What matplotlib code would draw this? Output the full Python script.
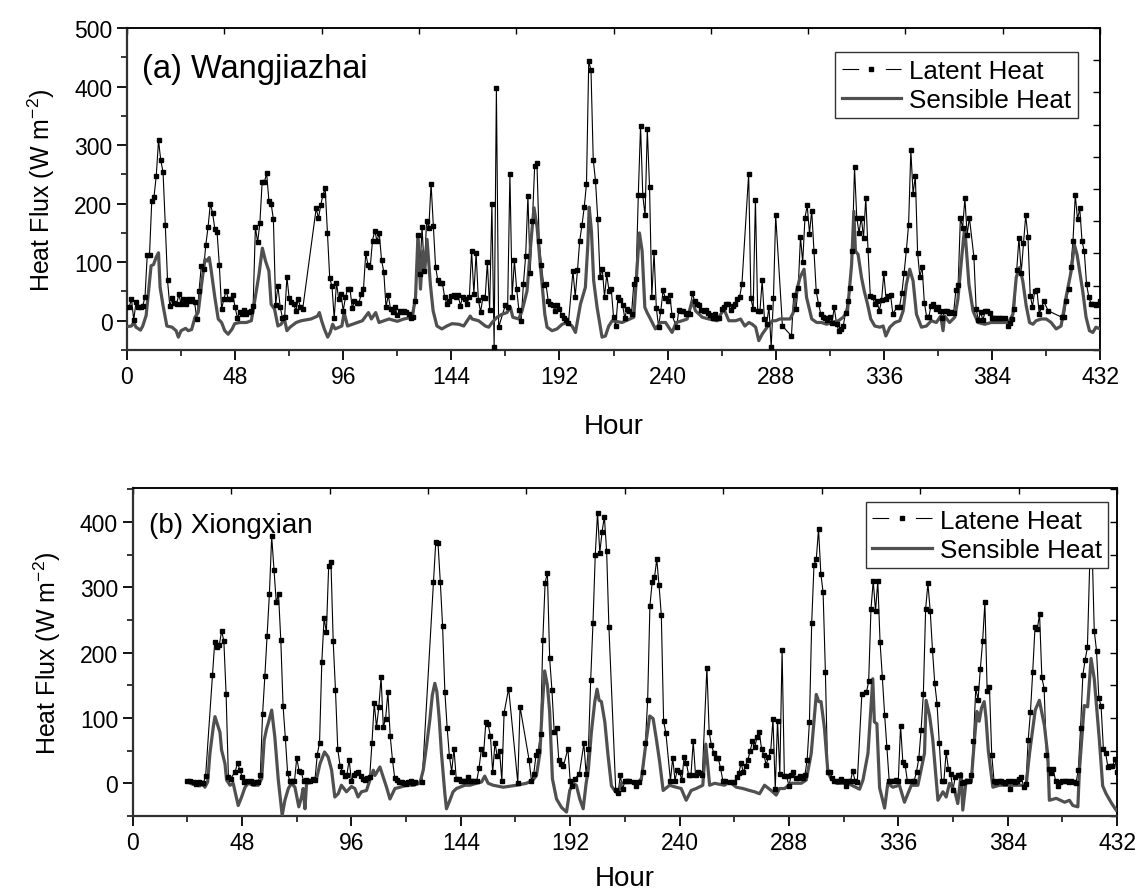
import numpy as np
import matplotlib
matplotlib.use("Agg")
import matplotlib.pyplot as plt
from matplotlib.lines import Line2D
from matplotlib.ticker import MultipleLocator, NullFormatter

nan = np.nan

plt.rcParams['font.family'] = ['Liberation Sans', 'DejaVu Sans']
plt.rcParams['mathtext.fontset'] = 'custom'
plt.rcParams['mathtext.rm'] = 'Liberation Sans'
plt.rcParams['mathtext.it'] = 'Liberation Sans:italic'

# hourly latent heat (W m-2), hour 0..432, nan = no record
latent_a = [
    nan, 24, 37, 1, 32, 24, 24, 25, 41, 113, 113, 205,
    212, 248, 308, 274, 254, 164, 69, 25, 38, 31, 28, 45,
    29, 37, 29, 37, 34, 37, 32, 3, 51, 94, 88, 130,
    160, 200, 184, 157, 151, 95, 20, 37, 51, 37, 37, 44,
    23, 5, 15, 12, 18, 11, 15, 17, 25, 160, 134, 167,
    237, 237, 252, 205, 200, 173, 27, 60, 24, 5, 7, 75,
    38, 32, 28, 17, 37, 23, 20, nan, nan, nan, nan, nan,
    192, 175, 197, 215, 226, 150, 73, 59, 4, 65, 37, 46,
    17, 40, 55, 55, 21, 34, 31, 31, 46, 55, 115, 95,
    92, 137, 154, 136, 150, 104, 84, 23, 44, 20, 15, 24,
    9, 17, 15, 17, 15, 11, 4, 6, 34, 146, 80, 160,
    85, 170, 159, 234, 162, 92, 69, 65, 65, 41, 29, 34,
    43, 44, 41, 44, 26, 40, 37, 29, 41, 119, 46, 116,
    35, 15, 40, 38, 100, 19, 200, -45, 398, -11, nan, nan,
    27, 24, 251, 41, 103, 54, 18, 0, 63, 111, 213, 82,
    171, 265, 269, 137, 95, 61, 63, 34, 29, 27, 17, 27,
    20, 10, 5, 1, -3, nan, 85, 41, 86, 137, 163, 194,
    234, 443, 428, 275, 239, 174, 75, 89, 41, 79, 51, 54,
    7, -9, 41, 35, 27, 5, 20, 16, 12, 63, 71, 215,
    333, 214, 180, 327, 228, 41, 117, 22, -10, 17, 52, 38,
    33, 44, 9, nan, -11, 18, 17, 16, 11, 14, 12, 48,
    33, 29, 27, 18, 17, 18, 14, 9, 5, 12, 5, 5,
    20, 24, 29, 28, 18, 26, 29, 37, 41, 62, nan, nan,
    251, 38, 20, 207, 16, 16, 69, 3, -6, 24, -45, 38,
    180, nan, nan, -9, nan, nan, nan, -26, 44, 20, 56, 143,
    100, 176, 197, 149, 188, 119, 50, 29, 12, 6, 5, 1,
    6, -3, 23, -5, -17, -14, -9, 14, 34, 56, 119, 262,
    176, 150, 176, 142, 210, 120, 43, 40, 29, 33, 17, 35,
    81, 37, 43, 44, 12, nan, 24, 24, 47, 81, 120, 164,
    291, 217, 247, 116, 75, 92, 31, 7, 7, 26, 29, 20,
    23, 17, 5, 17, 16, 14, 15, 14, 52, 61, 176, 159,
    209, 147, 176, nan, 109, 20, 1, 15, 1, 16, 16, 14,
    5, 5, 5, 5, 4, nan, 5, -9, -3, 3, 20, 86,
    142, 82, 132, 180, 143, 43, 24, 51, 52, 12, 23, 33,
    nan, 17, nan, nan, nan, nan, nan, 6, 6, 33, 54, 91,
    137, 215, 173, 192, 136, 119, 63, 41, 29, 28, 27, 28,
    34,
]

latent_b = [
    nan, nan, nan, nan, nan, nan, nan, nan, nan, nan, nan, nan,
    nan, nan, nan, nan, nan, nan, nan, nan, nan, nan, nan, nan,
    3, 3, nan, 2, -1, 2, 0, 0, 11, nan, nan, 166,
    216, 208, 211, 233, 218, 136, 9, 7, nan, 18, 31, 21,
    10, 2, 3, nan, 3, 0, 2, 2, 12, 106, 164, 226,
    290, 378, 327, 277, 289, 219, 118, 69, 15, 3, 3, 3,
    39, 19, 17, 3, 5, 3, 3, 7, 5, 44, 62, 186,
    253, 231, 332, 339, 217, 142, 52, 27, 18, 11, 13, 36,
    3, 13, 15, 18, 11, 7, 5, 8, 9, 61, 123, 86,
    116, 162, 86, 99, 140, 73, 36, 8, 5, 2, 2, 0,
    -1, 2, 4, 0, 2, nan, nan, 2, nan, nan, nan, nan,
    308, 369, 367, 308, 241, 140, 85, 41, 18, 53, 7, 7,
    4, 3, 3, 9, 3, 3, 3, 4, 23, 52, 45, 94,
    90, 72, 17, 62, 41, 50, 4, 108, nan, 145, nan, nan,
    nan, 1, 117, nan, nan, nan, 35, 4, 14, 43, 50, 76,
    220, 307, 322, 191, 142, 78, 85, 36, 30, 26, nan, 53,
    4, -4, 7, nan, 14, nan, 61, 14, 53, 158, 245, 349,
    414, 353, 385, 408, 355, 239, nan, nan, -11, -15, 12, -9,
    3, 3, 3, nan, 2, -4, 2, nan, 17, 61, 127, 272,
    308, 315, 343, 303, 257, 95, 77, nan, 4, 39, 4, 21,
    17, 5, 40, 31, 12, 12, 64, 13, 18, 15, 13, nan,
    177, 78, 58, 47, 38, 38, 23, 4, 4, nan, 2, nan,
    2, 9, 15, 31, 17, 27, 36, 50, 64, 55, 71, 79,
    52, 44, 28, 40, 49, 99, -9, 96, 14, 204, 11, 11,
    -4, 12, 17, 8, 8, 11, 8, 12, 36, 94, 246, 334,
    343, 389, 321, 292, 171, 17, 18, 8, 3, 3, 3, 6,
    3, -4, 4, 3, 19, 4, 2, nan, 136, nan, 139, 156,
    266, 310, 263, 310, 216, 162, 105, 55, 4, 4, 4, 5,
    4, 88, 32, 28, 3, nan, 4, 4, 18, 38, 81, 137,
    267, 306, 264, 204, 153, 122, 61, 3, 3, 48, 22, 14,
    -10, 10, 12, 12, 0, 2, 3, 3, 12, 64, 146, 127,
    175, 217, 277, 141, 148, 44, 4, 2, 3, 4, 2, 1,
    4, -9, 4, 2, 4, 7, 9, -5, -1, 66, 109, 171,
    239, 236, 259, 162, 145, 44, 22, 15, 22, 4, -4, 2,
    4, 4, 4, 2, 4, 2, 0, 21, 85, 166, 189, 208,
    335, 370, 233, 203, 131, 118, 53, 46, 25, 27, 26, 37,
    17,
]

# sensible heat, read as (hour, value) breakpoints
sens_a_hour = [
    0, 2, 3, 4, 6, 7, 8.5, 9.6, 10.7, 11.8,
    13, 14, 14.7, 16, 17.7, 20, 21.8, 22.8, 24, 26,
    27.2, 28.7, 30.2, 31.6, 33.1, 34.6, 35.6, 36.5, 37.2, 39,
    40.5, 42, 43.4, 44.9, 46.7, 47.8, 50, 53, 55.2, 56.7,
    58.6, 60.1, 61.5, 63, 64, 65.5, 67, 68.4, 69.9, 71,
    72.4, 75.1, 77.3, 81.7, 84.6, 85.4, 86.4, 87.6, 89.1, 90.2,
    91.3, 92.4, 94.2, 95.4, 96.4, 97.9, 100.1, 102.3, 104.5, 107.2,
    108.5, 110.4, 111.9, 114.1, 116.3, 120, 122.9, 126.6, 128.1, 129.2,
    130.3, 131.3, 132.2, 133.2, 134.7, 135.9, 137.6, 139.8, 142, 144.3,
    147.3, 149.5, 152.4, 153.2, 156.1, 159.1, 160.6, 162.1, 164.3, 166.5,
    168.7, 170.2, 171.3, 173.9, 175.4, 177.6, 179.5, 180.7, 182.1, 183.2,
    184.3, 185.5, 186.5, 188.7, 190.9, 193.2, 195.4, 197.6, 199.1, 201.3,
    203.5, 204.6, 205.2, 206.2, 207.2, 208.7, 210.9, 212.4, 213.9, 215.4,
    219.8, 225, 226.2, 227.5, 228.7, 229.9, 230.9, 232, 234.6, 236.9,
    239.1, 242, 243.8, 246.5, 248.7, 250.9, 252.4, 255.4, 258.3, 262,
    265, 267.2, 270.2, 272.4, 274.3, 276.1, 277.6, 279.1, 280.5, 282,
    284.2, 286.5, 288, 289.9, 292.1, 294.4, 295.8, 297.3, 298.8, 300.6,
    301.7, 304, 306.2, 308.4, 310.6, 312.8, 315.8, 318, 319.9, 321.7,
    322.7, 323.4, 324.6, 326.1, 327.3, 328.8, 330.2, 332, 334.2, 335.7,
    336.9, 338.7, 340.9, 343.1, 344.6, 346, 347.5, 349, 350.5, 352.7,
    354.9, 357.1, 359.3, 361.3, 362.3, 363, 365.2, 367.5, 368.9, 370.7,
    371.9, 372.6, 373.8, 375.6, 377.8, 380.8, 383.7, 386.7, 389.6, 391.8,
    393.3, 394.8, 396.3, 397.7, 399.2, 400.7, 402.2, 403.6, 405.9, 408.1,
    410.3, 412.5, 414.7, 416.9, 419.2, 420.6, 421.8, 422.8, 424.3, 425.8,
    427.3, 428.8, 430.2, 432,
]
sens_a_val = [
    -10, -9, -3, -11, -16, -9, 9, 51, 94, 96,
    109, 116, 57, 26, -9, -11, -17, -28, -17, -13,
    -17, -15, 6, 14, 62, 105, 102, 108, 91, 40,
    3, -3, -17, -23, -14, -5, -3, -3, 0, 34,
    79, 124, 102, 85, 28, 20, -9, -6, 3, -17,
    -11, -3, 0, 3, 8, 14, 0, -14, -28, -20,
    -6, -14, -11, -9, 14, -9, -6, -3, 0, 14,
    3, 14, -3, 0, 3, -1, 3, 6, 40, 147,
    54, 119, 85, 139, 62, 17, -9, -14, -9, -5,
    -6, -9, 8, 3, 0, -9, -11, -3, 6, 11,
    14, 23, 6, 3, 17, 51, 142, 193, 159, 108,
    62, 11, -11, -17, -14, -6, -3, -9, -20, 28,
    57, 130, 194, 153, 68, 23, -28, -26, -9, 0,
    -3, 6, 74, 150, 119, 23, 14, 6, -14, -3,
    -3, -20, -3, 0, 3, 34, 17, 6, 3, 0,
    20, 0, 0, 3, -9, -3, -6, -11, -34, -23,
    -11, 0, 0, 3, 3, 3, 14, 51, 74, 88,
    40, 3, -3, -3, -6, -3, 0, 6, 17, 96,
    187, 119, 113, 74, 51, 28, 3, -9, -11, -9,
    -26, -11, -3, 0, 17, 62, 88, 68, 11, -11,
    -9, 0, -3, 8, -17, 8, -3, 6, 37, 113,
    159, 125, 62, 17, -3, -6, -3, -3, -3, 0,
    11, 74, 91, 68, 26, -3, -6, 0, 3, 3,
    -3, -14, -9, 40, 85, 130, 113, 88, 51, 6,
    -17, -20, -11, -14,
]

sens_b_hour = [
    24.4, 25.9, 28.1, 29.5, 30.5, 31.7, 32.9, 33.9, 35.4, 36.1,
    38.3, 39, 40.5, 41.2, 42.7, 44.1, 46.3, 47.8, 49.3, 50.7,
    52.9, 55.1, 56.6, 57.7, 58.8, 59.5, 61, 62.4, 63.9, 65.6,
    66.8, 68.3, 69.7, 71.2, 72.9, 74.1, 74.8, 75.6, 76.3, 78.5,
    80.7, 82.2, 84.2, 85.8, 87.3, 88.7, 90.2, 91.6, 93.8, 96,
    97.5, 98.9, 100.4, 102.6, 104.1, 105.6, 106.3, 108.5, 109.9, 111.4,
    112.9, 115.1, 117.3, 120.2, 123.1, 126, 127.5, 128.9, 130.4, 131.5,
    132.6, 133.5, 134.5, 135.5, 137, 137.7, 139.2, 140.6, 142.1, 143.6,
    145.8, 148, 150.9, 153.1, 154.5, 156, 158.2, 162.6, 168.4, 172.8,
    175.7, 177.2, 178.7, 179.8, 180.8, 182, 183, 184.2, 186, 188.2,
    190.4, 191.8, 193.3, 194.7, 196.2, 197.7, 199, 200, 201.3, 202.8,
    203.8, 204.7, 205.7, 207.2, 208.6, 210.1, 211.5, 213, 214.4, 217.4,
    220.3, 223.2, 225.4, 226.9, 228.4, 229.8, 231.3, 232.8, 235.6, 238.5,
    240.7, 242.9, 245.1, 247.3, 250.2, 251.5, 253.2, 255.4, 259.7, 262,
    264.9, 267.8, 270.7, 272.9, 275.1, 277.3, 280.2, 282.4, 283.9, 286.1,
    289, 293.4, 295.6, 297.8, 300, 301.1, 302.1, 303.6, 305.1, 306.5,
    309, 313.8, 319, 320.5, 322.7, 324.8, 325.5, 326.6, 327.8, 330,
    331.4, 333.6, 336.5, 338.7, 341.7, 344.6, 347.5, 348.2, 349.7, 351.1,
    353.4, 355.6, 357, 358.5, 360.7, 362.1, 363.6, 364.3, 365.8, 368,
    369.4, 370.5, 371.5, 372.5, 373.7, 374.5, 375.5, 377.5, 380.4, 392.1,
    393.6, 396.1, 397.9, 400.1, 401.6, 402.3, 405.3, 409, 411.1, 412.6,
    414.8, 415.5, 417.6, 419.1, 420.6, 422, 424.2, 425.7, 427.2, 429.5,
    431.6,
]
sens_b_val = [
    2, -1, -3, -4, 0, -6, 2, 46, 87, 102,
    78, 51, 30, 5, -3, 0, -34, -21, -6, 0,
    -3, -3, 7, 66, 84, 92, 112, 70, 5, -49,
    -26, -8, 0, -6, -36, -21, -8, -39, 0, 2,
    7, 30, 48, 40, 20, -21, -16, -3, -13, -5,
    -8, -21, -13, -11, 5, 20, 12, 25, 10, -6,
    -24, -8, -6, -3, -3, 0, 20, 56, 97, 135,
    153, 140, 100, 46, -16, -39, -26, -13, -8, -6,
    -3, -3, 0, 2, 11, 0, -3, -6, -3, 0,
    5, 12, 46, 120, 172, 150, 109, 7, -24, -37,
    -44, -11, 0, -3, -24, -39, 0, 22, 78, 125,
    144, 127, 125, 94, 43, -4, -11, -16, 0, 2,
    0, 5, 66, 103, 99, 68, 32, -11, -3, -6,
    -8, -26, -11, -8, -3, 60, -3, 0, -3, 2,
    -6, -8, -11, -13, -16, -3, -11, -18, -8, -8,
    0, 0, 5, 46, 136, 125, 125, 84, 17, 7,
    0, 0, -9, 5, 46, 160, 94, 91, -7, -38,
    0, -6, -3, -29, -3, -3, 46, 127, 104, 68,
    -26, -13, -21, 0, -11, -31, 15, -41, 5, 2,
    66, 110, 95, 115, 125, 100, 50, -6, -3, -3,
    46, 112, 127, 89, 43, -26, -23, -29, -26, -34,
    -36, 20, 119, 117, 191, 160, 68, -4, -16, -30,
    -41,
]

hours = np.arange(433)
hour_ticks = list(range(0, 433, 48))

fig = plt.figure(figsize=(11.41, 8.95), dpi=100)
ax1 = fig.add_axes([0.1113, 0.6078, 0.8528, 0.3598])
ax2 = fig.add_axes([0.1163, 0.0872, 0.8627, 0.3665])

sens_color = '#505050'


def draw_panel(ax, lat, sh, sv, ymax, right_step, xlabelpad):
    lat = np.array(lat, dtype=float)
    ok = ~np.isnan(lat)
    ax.plot(hours[ok], lat[ok], color='black', lw=0.8, zorder=2)
    ax.plot(np.array(sh), np.array(sv), color=sens_color, lw=2.3, zorder=3)
    ax.plot(hours[ok], lat[ok], ls='none', marker='s', ms=3.3,
            color='black', zorder=4)

    ax.set_xlim(0, 432)
    ax.set_ylim(-50, ymax)
    ax.set_xticks(hour_ticks)
    ax.xaxis.set_minor_locator(MultipleLocator(24))
    ax.yaxis.set_minor_locator(MultipleLocator(50))
    ax.set_yticks([0, 100, 200, 300, 400] + ([500] if ymax >= 500 else []))
    ax.tick_params(which='major', direction='out', length=7, width=1.3,
                   labelsize=16.5, top=False, right=False)
    ax.tick_params(which='minor', direction='out', length=4, width=1.1,
                   top=False, right=False)
    for s in ['left', 'bottom']:
        ax.spines[s].set_linewidth(1.6)
        ax.spines[s].set_color('#303030')
    for s in ['top', 'right']:
        ax.spines[s].set_linewidth(1.1)

    # origin-style top / right axes with their own tick spacing
    top = ax.secondary_xaxis('top', functions=(lambda x: x * 480 / 432,
                                               lambda x: x * 432 / 480))
    top.set_xticks(range(0, 481, 48))
    top.xaxis.set_major_formatter(NullFormatter())
    top.tick_params(direction='in', length=4, width=1.0)
    top.spines['top'].set_linewidth(1.1)

    rt = ax.secondary_yaxis('right', functions=(lambda v: (v + 50) / right_step,
                                                lambda t: t * right_step - 50))
    rt.set_yticks(range(0, 11))
    rt.yaxis.set_major_formatter(NullFormatter())
    rt.tick_params(direction='in', length=5, width=1.0)
    rt.spines['right'].set_linewidth(1.1)

    ax.set_xlabel('Hour', fontsize=20, labelpad=xlabelpad)
    ax.set_ylabel('Heat Flux (W m$^{-2}$)', fontsize=18, labelpad=12)

    handles = [
        Line2D([], [], color='black', lw=0.8, ls=(0, (15, 24)), marker='s',
               ms=3.5),
        Line2D([], [], color=sens_color, lw=2.3),
    ]
    return handles


leg_style = dict(loc='upper right', borderaxespad=0, fontsize=18.7,
                 fancybox=False, framealpha=1, edgecolor='#333333',
                 handlelength=2.3, handletextpad=0.3, borderpad=0.25,
                 labelspacing=0.2)

h1 = draw_panel(ax1, latent_a, sens_a_hour, sens_a_val, 500, 55, 18)
ax1.text(0.015, 0.848, '(a) Wangjiazhai', transform=ax1.transAxes,
         fontsize=23.5, va='baseline', ha='left')
leg1 = ax1.legend(h1, ['Latent Heat', 'Sensible Heat'],
                  bbox_to_anchor=(0.977, 0.925), **leg_style)
leg1.get_frame().set_linewidth(1.0)

h2 = draw_panel(ax2, latent_b, sens_b_hour, sens_b_val, 452, 50, 8)
ax2.text(0.017, 0.866, '(b) Xiongxian', transform=ax2.transAxes,
         fontsize=20, va='baseline', ha='left')
leg2 = ax2.legend(h2, ['Latene Heat', 'Sensible Heat'],
                  bbox_to_anchor=(0.991, 0.957), **leg_style)
leg2.get_frame().set_linewidth(1.0)

fig.savefig('out.png', dpi=100)
